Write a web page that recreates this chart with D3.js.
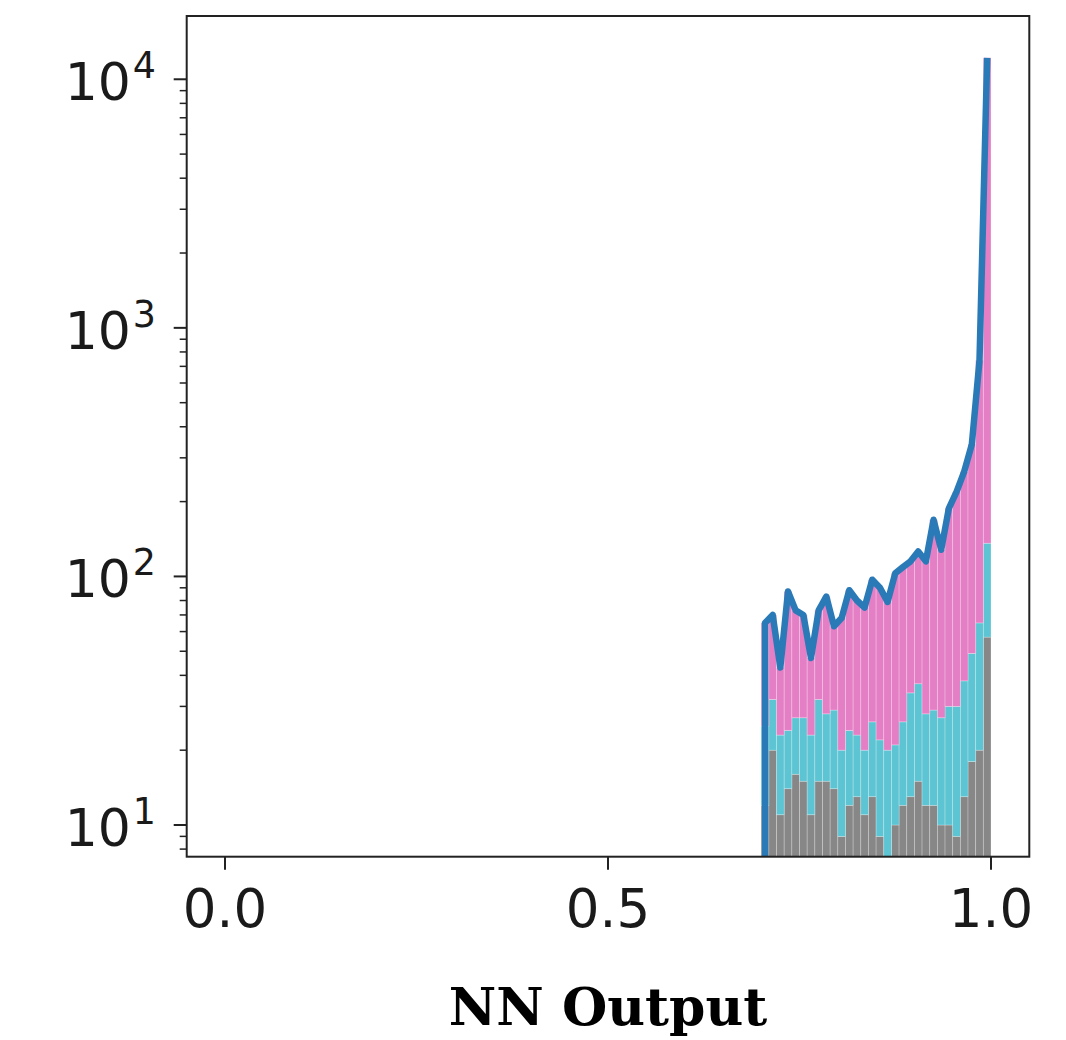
<!DOCTYPE html>
<html><head><meta charset="utf-8">
<script src="https://cdn.jsdelivr.net/npm/d3@7/dist/d3.min.js"></script>
<style>body{margin:0;background:#fff}</style>
</head><body><svg id="c" width="1066" height="1040"></svg>
<script>
// ---- data ----
const binStarts = [0.70,0.71,0.72,0.73,0.74,0.75,0.76,0.77,0.78,0.79,0.80,0.81,0.82,0.83,0.84,0.85,0.86,0.87,0.88,0.89,0.90,0.91,0.92,0.93,0.94,0.95,0.96,0.97,0.98,0.99];
const binWidth = 0.01;
const grayCounts = [12,20,11,14,16,15,11,15,15,14,9,12,13,11,13,9,7,10,12,13,15,12,12,10,10,9,13,18,20,57];
const cyanCounts = [13,12,12,10,11,12,12,17,13,15,11,12,10,9,13,13,13,11,14,21,22,16,17,17,20,21,25,31,45,79];
const pinkCounts = [40,38,20,63,46,43,24,41,55,34,48,64,57,55,71,68,59,82,83,81,89,87,140,101,158,189,226,291,675,12064];
const totalCounts = [65,70,43,87,73,70,47,73,83,63,68,88,80,75,97,90,79,103,109,115,126,115,169,128,188,219,264,340,740,12200];
const xTicks = [0.0,0.5,1.0];
const xTickLabels = ["0.0","0.5","1.0"];
const yTicks = [10,100,1000,10000];
const yTickExps = ["1","2","3","4"];
const xLabel = "NN Output";

// ---- layout ----
const L = 186.7, R = 1029.3, T = 16, B = 856.7;
const svg = d3.select("#c");
const x = d3.scaleLinear().domain([-0.05,1.05]).range([L,R]);
const yDom = [7.456, 17970];
const y = d3.scaleLog().domain(yDom).range([B,T]);

svg.append("clipPath").attr("id","clip").append("rect")
  .attr("x",L).attr("y",T).attr("width",R-L).attr("height",B-T);

const rows = binStarts.map((s,i)=>({s, gray:grayCounts[i], cyan:cyanCounts[i], pink:pinkCounts[i]}));
const keys = ["gray","cyan","pink"];
const colors = {gray:"#878787", cyan:"#5cc4d2", pink:"#e47fc6"};
const stacked = d3.stack().keys(keys)(rows);

const g = svg.append("g").attr("clip-path","url(#clip)");
stacked.forEach(layer=>{
  g.append("g").selectAll("rect").data(layer).join("rect")
    .attr("x", d=>x(d.data.s))
    .attr("width", d=>x(d.data.s+binWidth)-x(d.data.s))
    .attr("y", d=>y(Math.max(d[1],yDom[0]*0.5)))
    .attr("height", d=>Math.max(0, y(Math.max(d[0],yDom[0]*0.5)) - y(Math.max(d[1],yDom[0]*0.5))))
    .attr("fill", colors[layer.key])
    .attr("stroke","rgba(255,255,255,0.3)")
    .attr("stroke-width",0.8);
});

// blue line through bin centres, rising from the axis floor
const pts = [[binStarts[0]+binWidth/2, yDom[0]*0.5]].concat(binStarts.map((s,i)=>[s+binWidth/2,totalCounts[i]]));
g.append("path").datum(pts)
  .attr("d", d3.line().x(d=>x(d[0])).y(d=>y(d[1])))
  .attr("fill","none").attr("stroke","#2a7ab8").attr("stroke-width",6.5)
  .attr("stroke-linejoin","round").attr("stroke-linecap","butt");

// frame
svg.append("rect").attr("x",L).attr("y",T).attr("width",R-L).attr("height",B-T)
  .attr("fill","none").attr("stroke","#222").attr("stroke-width",2);

// x axis ticks
const xa = svg.append("g");
xTicks.forEach((t,i)=>{
  xa.append("line").attr("x1",x(t)).attr("x2",x(t)).attr("y1",B).attr("y2",B+13)
    .attr("stroke","#222").attr("stroke-width",2);
  xa.append("text").attr("x",x(t)).attr("y",926.5).attr("text-anchor","middle")
    .attr("font-family","DejaVu Sans").attr("font-size",53).attr("fill","#1a1a1a").text(xTickLabels[i]);
});

// y axis ticks
const ya = svg.append("g");
const lo = Math.floor(Math.log10(yDom[0])), hi = Math.ceil(Math.log10(yDom[1]));
for(let e=lo;e<=hi;e++){
  for(let m=2;m<=9;m++){
    const v = m*Math.pow(10,e);
    if(v>=yDom[0] && v<=yDom[1]){
      ya.append("line").attr("x1",L-7).attr("x2",L).attr("y1",y(v)).attr("y2",y(v))
        .attr("stroke","#222").attr("stroke-width",1.5);
    }
  }
}
yTicks.forEach((t,i)=>{
  ya.append("line").attr("x1",L-13).attr("x2",L).attr("y1",y(t)).attr("y2",y(t))
    .attr("stroke","#222").attr("stroke-width",2);
  const tx = ya.append("text").attr("x",156).attr("y",y(t)+20.7).attr("text-anchor","end")
    .attr("font-family","DejaVu Sans").attr("font-size",52).attr("fill","#1a1a1a");
  tx.append("tspan").text("10");
  tx.append("tspan").attr("dx",2).attr("dy",-21.7).attr("font-size",36.4).text(yTickExps[i]);
});

// x label
svg.append("text").attr("x",(L+R)/2).attr("y",1025).attr("text-anchor","middle")
  .attr("font-family","DejaVu Serif").attr("font-weight","bold").attr("font-size",52)
  .attr("fill","#000").text(xLabel);
</script></body></html>
